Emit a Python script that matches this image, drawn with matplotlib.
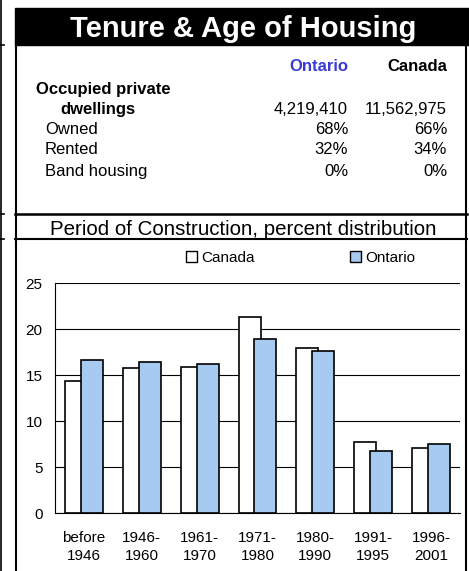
import numpy as np
import matplotlib
matplotlib.use('Agg')
import matplotlib.pyplot as plt
from matplotlib.patches import Rectangle, Patch
from matplotlib.lines import Line2D

plt.rcParams['font.family'] = ['Liberation Sans', 'DejaVu Sans']

# data
periods = ['before\n1946', '1946-\n1960', '1961-\n1970', '1971-\n1980', '1980-\n1990', '1991-\n1995', '1996-\n2001']
canada = [14.4, 15.8, 15.9, 21.3, 18.0, 7.7, 7.1]
ontario = [16.7, 16.4, 16.2, 18.9, 17.6, 6.8, 7.5]

row_labels = ['Owned', 'Rented', 'Band housing']
ontario_tenure = ['68%', '32%', '0%']
canada_tenure = ['66%', '34%', '0%']
ontario_dwellings = '4,219,410'
canada_dwellings = '11,562,975'

W, H = 469, 571
fig = plt.figure(figsize=(W / 100, H / 100), dpi=100)

def fx(x):
    return x / W

def fy(y):
    return 1 - y / H

def hline(x0, x1, y, lw=1.5):
    fig.add_artist(Line2D([fx(x0), fx(x1)], [fy(y), fy(y)], color='black', lw=lw))

def vline(x, y0, y1, lw=1.5):
    fig.add_artist(Line2D([fx(x), fx(x)], [fy(y0), fy(y1)], color='black', lw=lw))

# neighbouring panel edge on the left
vline(1, 0, H, lw=1.2)
for y in [45, 214, 239]:
    hline(0, 4, y, lw=1.2)

# main frame
vline(16, 45, H, lw=1.5)
vline(466, 45, H, lw=1.5)
hline(15, 467, 214, lw=1.8)
hline(15, 467, 239, lw=1.5)

# title bar
fig.add_artist(Rectangle((fx(15), fy(45)), fx(469 - 15), 37 / H, color='black'))
fig.text(fx(243), fy(37), 'Tenure & Age of Housing', color='white', fontsize=21,
         fontweight='bold', ha='center', va='baseline')

# tenure table
fs = 12
blue_txt = '#3a3ad6'
fig.text(fx(348), fy(71), 'Ontario', color=blue_txt, fontsize=fs, fontweight='bold',
         ha='right', va='baseline')
fig.text(fx(447), fy(71), 'Canada', color='black', fontsize=fs, fontweight='bold',
         ha='right', va='baseline')
fig.text(fx(36), fy(94), 'Occupied private', fontsize=fs, fontweight='bold', va='baseline')
fig.text(fx(60), fy(114), 'dwellings', fontsize=fs, fontweight='bold', va='baseline')
fig.text(fx(348), fy(114), ontario_dwellings, fontsize=fs, ha='right', va='baseline')
fig.text(fx(447), fy(114), canada_dwellings, fontsize=fs, ha='right', va='baseline')
for i, lab in enumerate(row_labels):
    yb = [134, 154, 176][i]
    fig.text(fx(45), fy(yb), lab, fontsize=fs, va='baseline')
    fig.text(fx(348), fy(yb), ontario_tenure[i], fontsize=fs, ha='right', va='baseline')
    fig.text(fx(447), fy(yb), canada_tenure[i], fontsize=fs, ha='right', va='baseline')

fig.text(fx(243), fy(235), 'Period of Construction, percent distribution', fontsize=14.8,
         ha='center', va='baseline')

# bar chart
ax = fig.add_axes([fx(55), fy(513.3), fx(460 - 55), (513.3 - 283.3) / H])
x = np.arange(len(periods))
w = 0.38
off = 0.138
ax.bar(x - off, canada, w, color='white', edgecolor='black', linewidth=1.2, zorder=2)
ax.bar(x + off, ontario, w, color='#a6caf0', edgecolor='black', linewidth=1.2, zorder=3)
ax.set_xlim(-0.5, len(periods) - 0.5)
ax.set_ylim(0, 25)
ax.set_yticks([0, 5, 10, 15, 20, 25])
ax.yaxis.grid(True, color='black', linewidth=0.8, zorder=0)
ax.set_axisbelow(True)
ax.set_xticks(x)
ax.set_xticklabels(periods, fontsize=11, linespacing=1.3)
ax.tick_params(axis='y', length=0, pad=9, labelsize=11)
ax.tick_params(axis='x', length=0, pad=13)
for s in ['top', 'right']:
    ax.spines[s].set_visible(False)
ax.spines['left'].set_linewidth(0.8)
ax.spines['bottom'].set_linewidth(0.8)

handles = [Patch(facecolor='white', edgecolor='black', linewidth=1.0),
           Patch(facecolor='#a6caf0', edgecolor='black', linewidth=1.0)]
fig.legend(handles, ['Canada', 'Ontario'], ncol=2, frameon=False, fontsize=11,
           loc='center left', bbox_to_anchor=(fx(186), fy(258)),
           handlelength=0.75, handleheight=0.75, handletextpad=0.25,
           columnspacing=6.2, borderpad=0, borderaxespad=0)

fig.savefig('out.png', dpi=100)
